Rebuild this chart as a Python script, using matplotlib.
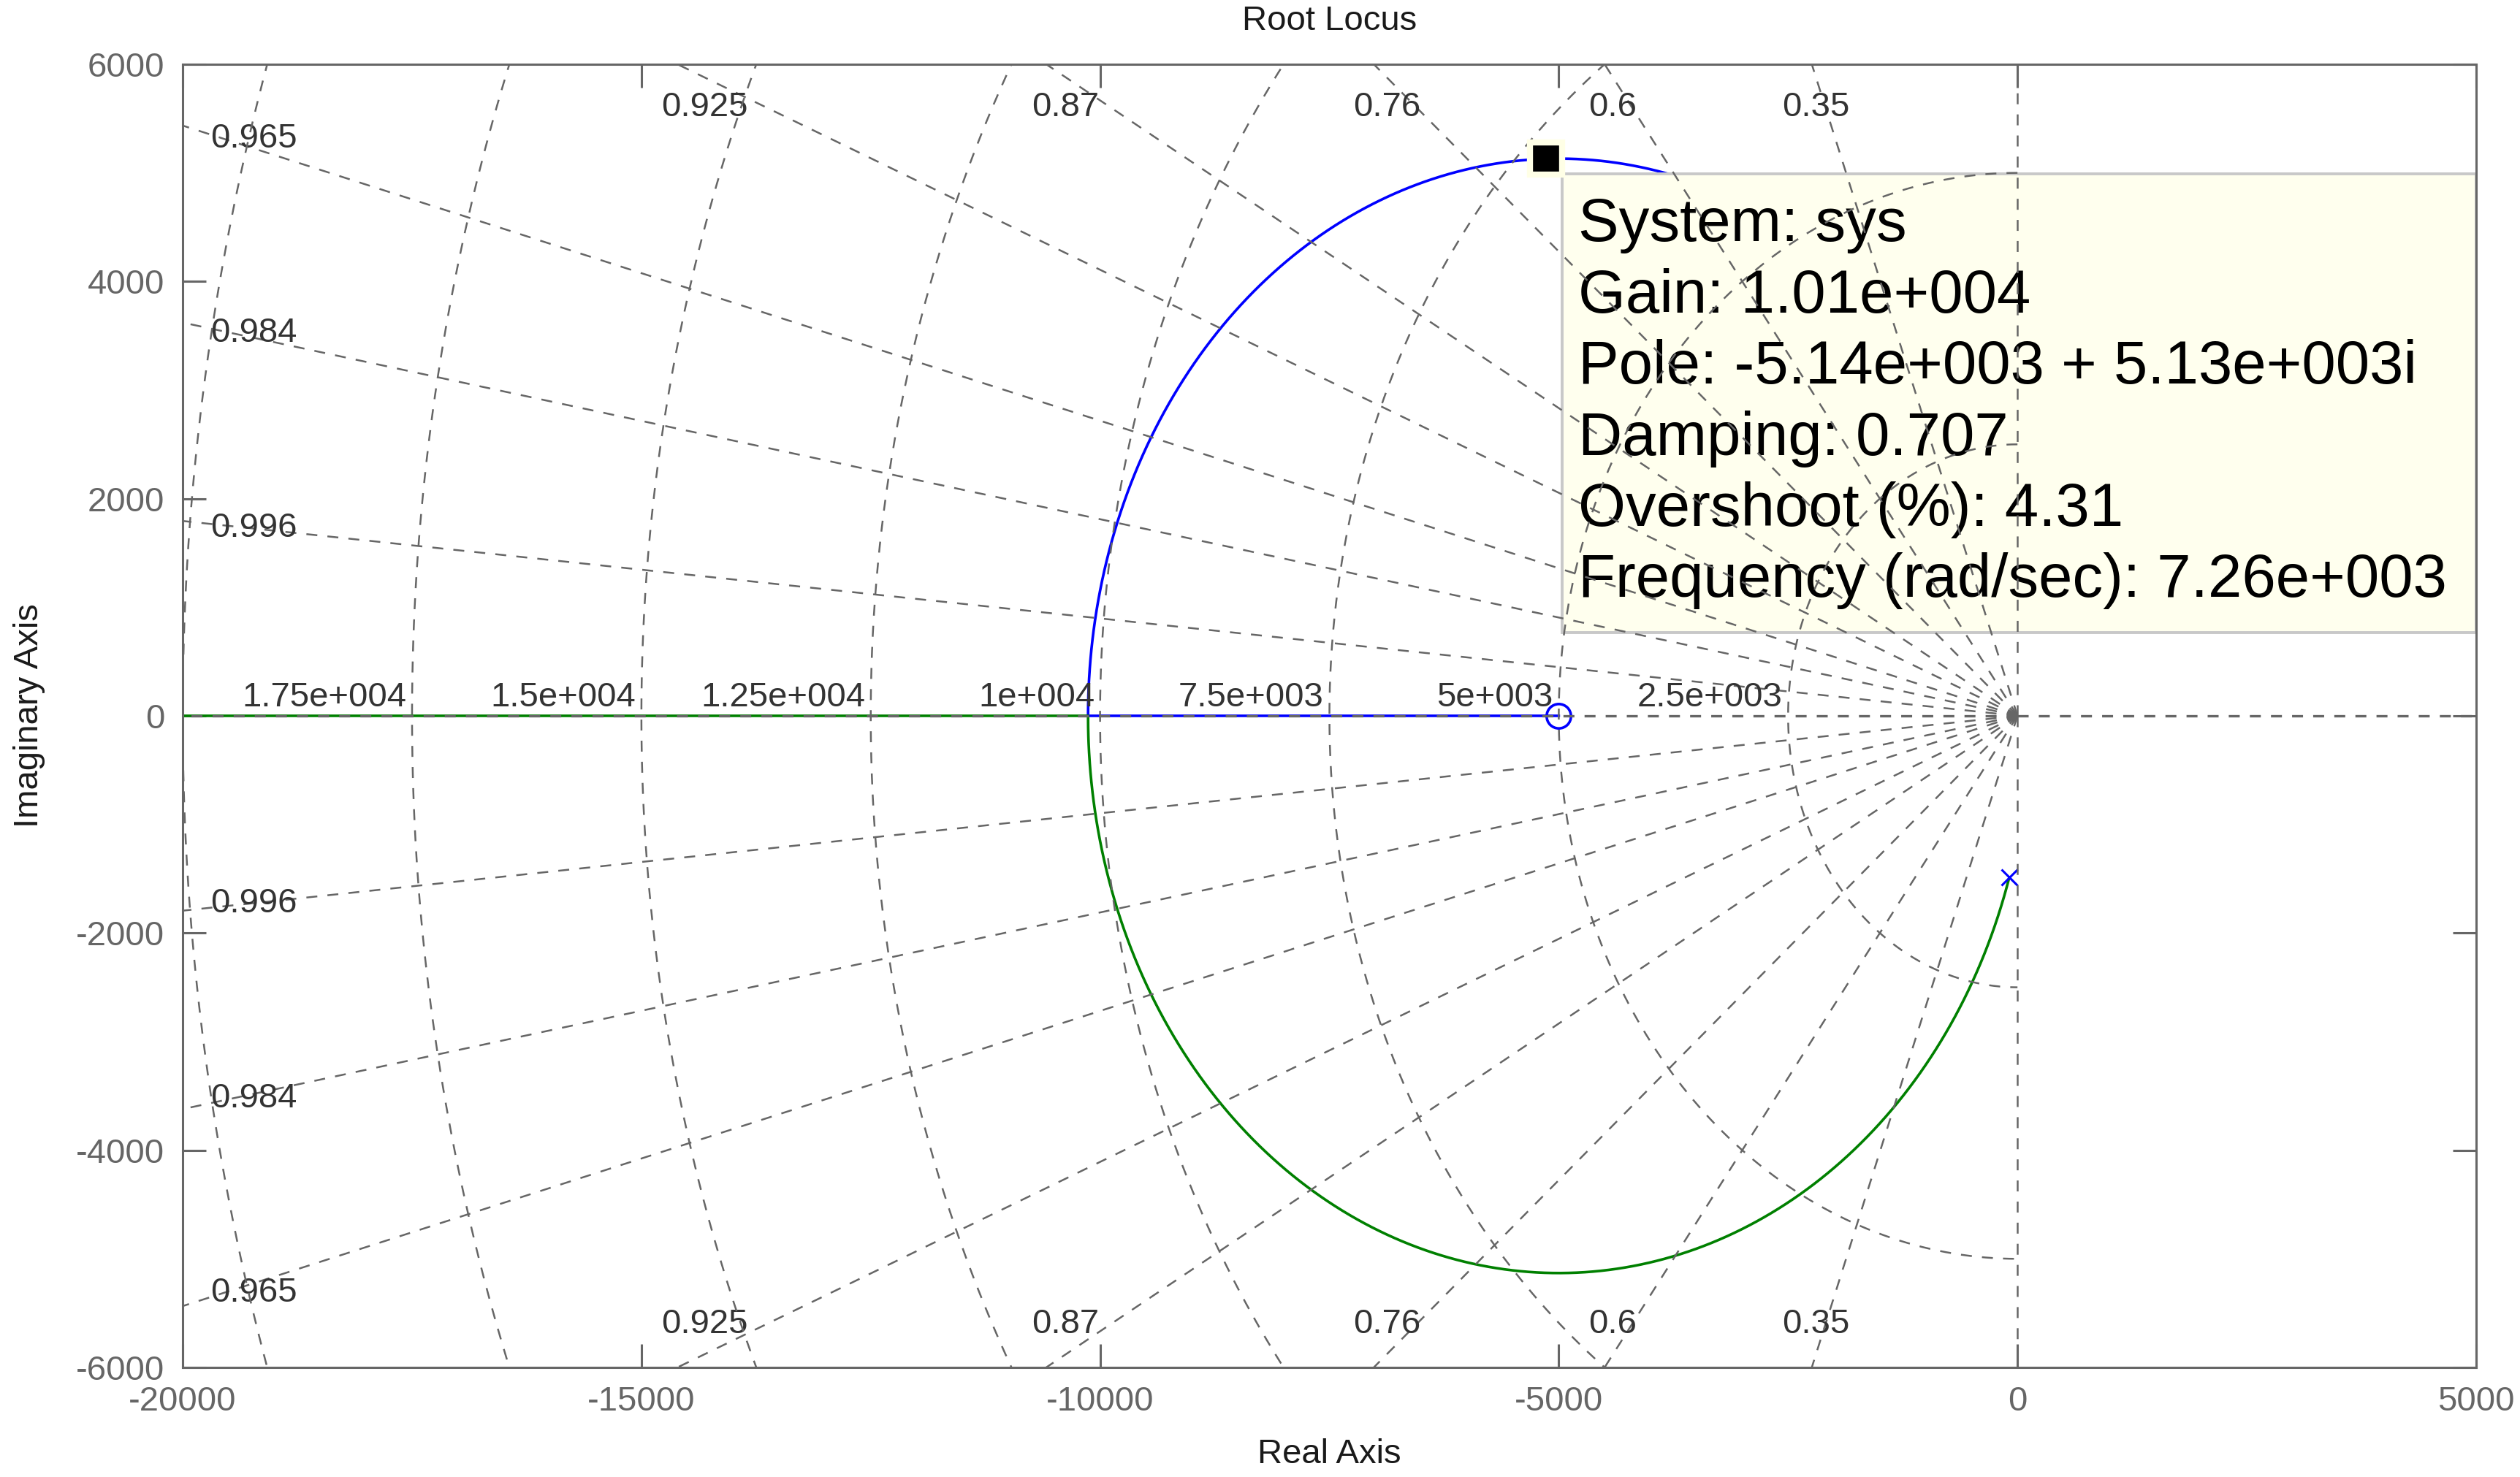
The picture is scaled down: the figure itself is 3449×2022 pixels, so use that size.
import numpy as np
import matplotlib
matplotlib.use('Agg')
import matplotlib.pyplot as plt
from matplotlib.patches import Rectangle

# ---------------- data ----------------
ol_poles = [-90 + 1490j, -90 - 1490j]      # open-loop poles (x markers)
ol_zeros = [-5000.0]                        # open-loop zero (o marker)
cursor_gain = 1.01e4                        # data-cursor gain

grid_zeta = [0.35, 0.6, 0.76, 0.87, 0.925, 0.965, 0.984, 0.996]
grid_zeta_labels = ['0.35', '0.6', '0.76', '0.87', '0.925', '0.965', '0.984', '0.996']
grid_wn = [2500, 5000, 7500, 10000, 12500, 15000, 17500, 20000]
grid_wn_labels = ['2.5e+003', '5e+003', '7.5e+003', '1e+004', '1.25e+004',
                  '1.5e+004', '1.75e+004', '']

x_ticks = [-20000, -15000, -10000, -5000, 0, 5000]
y_ticks = [-6000, -4000, -2000, 0, 2000, 4000, 6000]

tip_lines = ['System: sys',
             'Gain: 1.01e+004',
             'Pole: -5.14e+003 + 5.13e+003i',
             'Damping: 0.707',
             'Overshoot (%): 4.31',
             'Frequency (rad/sec): 7.26e+003']

# ---------------- style ----------------
plt.rcParams['font.family'] = ['Liberation Sans', 'DejaVu Sans']
plt.rcParams['lines.scale_dashes'] = False
GRID_C = '#666666'
AX_C = '#666666'
LBL_C = '#333333'
DASH = (0, (5.4, 5.0))

fig = plt.figure(figsize=(17.245, 10.11), dpi=200)
ax = fig.add_axes([0.0725, 0.0742, 0.9101, 0.8823])
ax.set_xlim(-20000, 5000)
ax.set_ylim(-6000, 6000)

# ---------------- root locus (2nd-order characteristic polynomial) ----------------
den = np.real(np.poly(ol_poles))          # [1, d1, d2]
num = np.real(np.poly(ol_zeros))          # [n0, n1]
d1, d2 = den[1], den[2]
n0, n1 = num[0], num[1]
# gain where the two branches meet on the real axis (discriminant = 0)
kb = np.roots([n0 ** 2, 2 * d1 * n0 - 4 * n1, d1 ** 2 - 4 * d2])
kb = kb[(np.abs(kb.imag) < 1e-9) & (kb.real > 0)].real.min()
gains = np.unique(np.concatenate([np.linspace(0, 4e4, 8001), [kb],
                                  np.geomspace(4e4, 1e8, 600)]))
b = d1 + gains * n0
c = d2 + gains * n1
disc = b ** 2 - 4 * c
disc[np.isclose(gains, kb)] = 0.0
sq = np.sqrt(np.abs(disc))
cplx = disc < 0
b1 = np.where(cplx, -b / 2 + 1j * sq / 2, (-b + sq) / 2 + 0j)   # upper / right branch
b2 = np.where(cplx, -b / 2 - 1j * sq / 2, (-b - sq) / 2 + 0j)   # lower / left branch
ax.plot(b1.real, b1.imag, color='#0000ff', lw=1.3, zorder=2)
ax.plot(b2.real, b2.imag, color='#008000', lw=1.3, zorder=2)

pr = np.array(ol_poles)
ax.plot(pr.real, pr.imag, ls='none', marker='x', ms=8, mew=1.1, color='#0000ff', zorder=2.5)
ax.plot(ol_zeros, [0] * len(ol_zeros), ls='none', marker='o', ms=12, mew=1.3,
        mfc='none', mec='#0000ff', zorder=2.5)

# ---------------- grid (sgrid) ----------------
gkw = dict(color=GRID_C, lw=0.9, ls=DASH, zorder=5)
R = 60000
for z, lab in zip(grid_zeta, grid_zeta_labels):
    s = np.sqrt(1 - z ** 2)
    for sg in (1, -1):
        ax.plot([0, -z * R], [0, sg * s * R], **gkw)
    slope = s / z
    x_top = -6000 / slope
    if x_top >= -20000:
        for sg in (1, -1):
            ax.text(0.98 * x_top, sg * 5600, lab, ha='center', va='center',
                    fontsize=17, color=LBL_C, zorder=5)
    else:
        xl = -19700
        yl = -xl * slope - 40
        for sg in (1, -1):
            ax.text(xl, sg * yl, lab, ha='left', va='center',
                    fontsize=17, color=LBL_C, zorder=5)

# real and imaginary axes
ax.plot([0, -25000], [0, 0], color=GRID_C, lw=1.2, ls=DASH, zorder=5)
ax.plot([0, 6000], [0, 0], color=GRID_C, lw=1.2, ls=DASH, zorder=5)
ax.plot([0, 0], [0, 7000], **gkw)
ax.plot([0, 0], [0, -7000], **gkw)

th = np.linspace(np.pi / 2, 3 * np.pi / 2, 721)
for w, lab in zip(grid_wn, grid_wn_labels):
    ax.plot(w * np.cos(th), w * np.sin(th), **gkw)
    if lab:
        ax.text(-w - 60, 90, lab, ha='right', va='baseline', fontsize=17,
                color=LBL_C, zorder=5)

# ---------------- data tip ----------------
box = Rectangle((0.6014, 0.564), 0.3986, 0.352, transform=ax.transAxes,
                facecolor='#ffffee', edgecolor='#c8c8c8', lw=1.4, zorder=3)
ax.add_patch(box)
for i, t in enumerate(tip_lines):
    ax.text(0.6084, 0.8765 - 0.0546 * i, t, transform=ax.transAxes, ha='left',
            va='center', fontsize=30, color='black', zorder=4)

bc = d1 + cursor_gain * n0
cc = d2 + cursor_gain * n1
pc = -bc / 2 + 1j * np.sqrt(4 * cc - bc ** 2) / 2
ax.plot([pc.real], [pc.imag], ls='none', marker='s', ms=16, mfc='black',
        mec='#ffffe6', mew=3, zorder=6)

# ---------------- axes styling ----------------
ax.set_xticks(x_ticks)
ax.set_xticklabels([str(v) for v in x_ticks])
ax.set_yticks(y_ticks)
ax.set_yticklabels([str(v) for v in y_ticks])
ax.tick_params(direction='in', length=11.5, width=1.1, color=AX_C,
               labelcolor=AX_C, labelsize=17, top=True, right=True, pad=9)
for sp in ax.spines.values():
    sp.set_color(AX_C)
    sp.set_linewidth(1.1)
    sp.set_zorder(7)

ax.set_title('Root Locus', fontsize=17, color='#1a1a1a', y=1.033, pad=0, va='center')
ax.set_xlabel('Real Axis', fontsize=17, color='#1a1a1a')
ax.xaxis.set_label_coords(0.5, -0.0667)
ax.xaxis.label.set_va('center')
ax.set_ylabel('Imaginary Axis', fontsize=17, color='#1a1a1a')
ax.yaxis.set_label_coords(-0.0669, 0.5)
ax.yaxis.label.set_va('center')

fig.savefig('out.png', dpi=200, facecolor='white')
